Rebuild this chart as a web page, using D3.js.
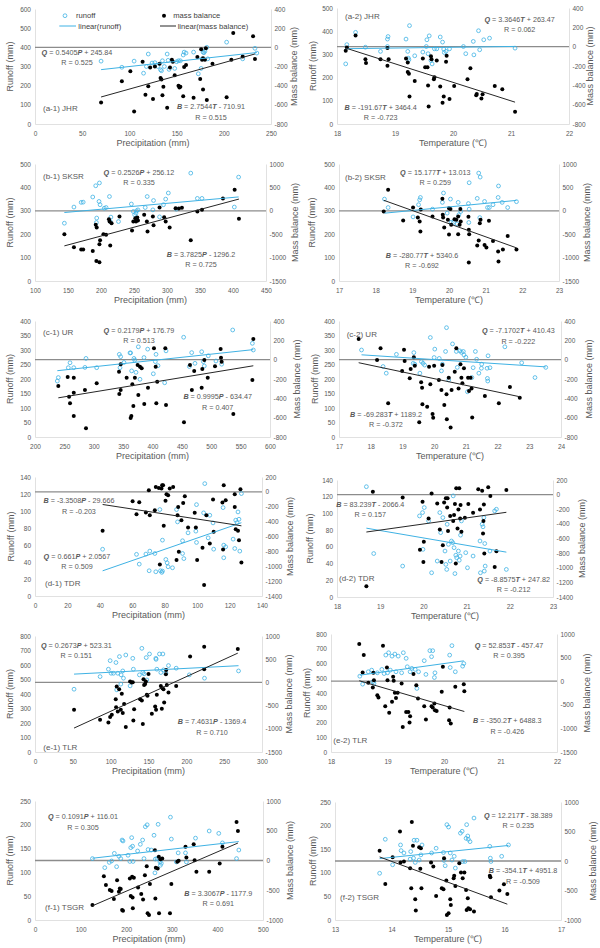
<!DOCTYPE html>
<html>
<head>
<meta charset="utf-8">
<title>Runoff and mass balance vs precipitation and temperature</title>
<style>
  body { margin: 0; background: #fff; }
  text { font-family: "Liberation Sans", Arial, sans-serif; fill: #595959; }
  .axis .tick text { font-size: 6.5px; fill: #595959; }
  .axis path { stroke: #d9d9d9; stroke-width: 0.8; }
</style>
<script src="https://d3js.org/d3.v7.min.js"></script>
</head>
<body>
<script>
// ---- data ----
const panelTitles = ["(a-1) JHR", "(a-2) JHR", "(b-1) SKSR", "(b-2) SKSR", "(c-1) UR", "(c-2) UR",
  "(d-1) TDR", "(d-2) TDR", "(e-1) TLR", "(e-2) TLR", "(f-1) TSGR", "(f-2) TSGR"];
const xTitles = ["Precipitation (mm)", "Temperature (\u2103)"];

const xDomains = [[0, 250], [18, 22], [100, 450], [17, 23], [200, 600], [17, 24],
  [0, 140], [18, 23], [0, 300], [18, 22], [0, 500], [13, 17]];
const xSteps = [50, 1, 50, 1, 50, 1, 20, 1, 50, 1, 100, 1];
const runoffDomains = [[0, 600], [0, 500], [0, 500], [0, 500], [0, 400], [0, 400],
  [0, 140], [0, 140], [0, 800], [0, 800], [0, 250], [0, 250]];
const runoffSteps = [100, 100, 100, 100, 50, 50, 20, 20, 100, 100, 50, 50];
const massDomains = [[-800, 400], [-800, 400], [-1500, 1000], [-1500, 1000], [-800, 400], [-800, 400],
  [-1400, 200], [-1400, 200], [-1500, 1000], [-1500, 1000], [-1000, 1000], [-1000, 1000]];
const massSteps = [200, 200, 500, 500, 200, 200, 200, 200, 500, 500, 500, 500];

const runoffFits = [[0.5405, 245.84], [3.3646, 263.47], [0.2526, 256.12], [15.177, 13.013],
  [0.2179, 176.79], [-7.1702, 410.43], [0.661, 2.0567], [-8.8575, 247.82],
  [0.2673, 523.31], [52.853, -457.47], [0.1091, 116.01], [12.217, -38.389]];
const massFits = [[2.7544, -710.91], [-191.67, 3464.4], [3.7825, -1296.2], [-280.77, 5340.6],
  [0.9995, -634.47], [-69.283, 1189.2], [-3.3508, -29.666], [83.239, -2066.4],
  [7.4631, -1369.4], [-350.2, 6488.3], [3.3067, -1177.9], [-354.1, 4951.8]];
const runoffR = ["0.525", "0.062", "0.335", "0.259", "0.513", "-0.222", "0.509", "-0.212", "0.151", "0.395", "0.305", "0.235"];
const massR = ["0.515", "-0.723", "0.725", "-0.692", "0.407", "-0.372", "-0.203", "0.157", "0.710", "-0.426", "0.691", "-0.509"];
const runoffVar = ["P", "T", "P", "T", "P", "T", "P", "T", "P", "T", "P", "T"];
const massVar = ["T", "T", "P", "T", "P", "T", "P", "T", "P", "T", "P", "T"]; // a-1 reads "T" in the source

const a1Runoff = [[70,328],[92,296],[105,328],[115,265],[118,300],[120,365],[124,318],[127,320],[130,300],[133,283],[134,278],[135,330],[137,300],[140,365],[141,332],[142,285],[148,290],[150,325],[152,330],[154,330],[157,360],[158,375],[160,370],[168,375],[173,262],[176,290],[177,340],[178,375],[179,372],[180,380],[182,400],[183,340],[203,427],[220,340],[233,395],[235,370]];
const a1Mass = [[70,-575],[92,-355],[101,-250],[105,-670],[114,-150],[117,-495],[120,-405],[122,-210],[125,-540],[127,-200],[132,-170],[133,-320],[134,-335],[135,-500],[136,-410],[140,-630],[143,-210],[145,-130],[146,-150],[148,-290],[152,-400],[153,-420],[154,-410],[157,-510],[158,-205],[160,-185],[168,-525],[172,-100],[175,-330],[176,-20],[177,-130],[178,-115],[178,-440],[180,-130],[181,-10],[182,-550],[188,-170],[203,-520],[208,-130],[210,150],[220,-95],[231,115],[233,-123]];
const a2Runoff = [[18.15,259],[18.17,342],[18.32,395],[18.49,331],[18.75,313],[18.87,366],[18.88,377],[18.87,334],[19.19,366],[19.22,313],[19.23,284],[19.24,277],[19.25,424],[19.34,294],[19.48,310],[19.55,363],[19.54,334],[19.57,303],[19.59,380],[19.62,274],[19.64,259],[19.68,324],[19.72,324],[19.78,375],[19.82,353],[19.84,323],[19.85,308],[19.88,313],[19.94,324],[20.18,334],[20.22,303],[20.35,356],[20.36,298],[20.44,402],[20.46,320],[20.53,363],[20.63,370],[21.07,327]];
const a2Mass = [[18.15,-43],[18.17,-8],[18.32,116],[18.49,-129],[18.5,-170],[18.75,-129],[18.87,-15],[18.87,-198],[18.89,-129],[19.19,-122],[19.22,-164],[19.22,-261],[19.24,-281],[19.25,-516],[19.34,-354],[19.48,-122],[19.52,-212],[19.56,-212],[19.57,-402],[19.58,-620],[19.62,-98],[19.63,-129],[19.67,-337],[19.68,-316],[19.72,-143],[19.78,-413],[19.82,-579],[19.84,-516],[19.88,-157],[19.89,-95],[19.94,-541],[20.02,-406],[20.25,-337],[20.3,-223],[20.4,-503],[20.41,-489],[20.49,-537],[20.51,-492],[20.72,-406],[20.85,-440],[21.07,-672]];
const b1Runoff = [[144.5,247],[159,316],[170,336],[173,337],[187.5,359],[193,250],[192,407],[193.5,269],[197.6,419],[197,340],[198.6,326],[205,311],[207.7,314],[212.8,361],[214,254],[215,273],[226.5,254],[246,329],[249,297],[251,283],[253,290],[254,300],[256,304],[267,314],[270,361],[278.6,304],[279.6,344],[288.7,274],[294.7,326],[298,350],[302,376],[314,307],[336,461],[346,353],[353,353],[402,316],[408.5,444]];
const b1Mass = [[144.5,-500],[159,-779],[170,-829],[173,-829],[187.5,-857],[192,-300],[193.5,-357],[193,-1071],[197.6,-1100],[197.6,-714],[198.6,-629],[203.7,-500],[207.7,-514],[212,-179],[214,-743],[213,-229],[216,-264],[228,-121],[247,-421],[249,-229],[252,-157],[253,-229],[255,-143],[256,-207],[265.4,-86],[269.5,-229],[270.5,-443],[278.6,-121],[279.6,-307],[288.7,71],[295.7,-136],[298,-229],[304,-357],[313,57],[318,50],[322.6,64],[336,-629],[346,-14],[353,21],[384.8,264],[402.5,450],[409,-171]];
const b2Runoff = [[18.24,350],[18.34,314],[19.02,274],[19.17,326],[19.2,347],[19.22,357],[19.55,307],[19.82,336],[19.85,376],[19.95,290],[20.04,350],[20.06,251],[20.12,250],[20.22,244],[20.25,336],[20.27,283],[20.32,297],[20.54,250],[20.53,331],[20.55,307],[20.55,420],[20.77,353],[20.81,461],[20.85,444],[20.84,271],[20.97,340],[21.05,314],[21.1,314],[21.2,326],[21.34,357],[21.35,406],[21.45,336],[21.6,314],[21.84,339]];
const b2Mass = [[18.22,-14],[18.34,450],[18.75,-207],[19.02,71],[19.15,-143],[19.2,-229],[19.22,-443],[19.23,29],[19.55,-121],[19.82,257],[19.83,-86],[19.84,-143],[19.87,-357],[19.97,-193],[20.0,57],[20.04,36],[20.06,-300],[20.0,-507],[20.15,-179],[20.2,-193],[20.25,-121],[20.25,-500],[20.29,-300],[20.31,36],[20.32,-229],[20.53,-129],[20.54,-407],[20.55,-500],[20.54,-1107],[20.81,-636],[20.84,-264],[20.86,-193],[20.77,-743],[20.97,-729],[21.02,-786],[21.09,-214],[21.2,-643],[21.34,-871],[21.35,-1086],[21.47,-829],[21.6,-536],[21.84,-829]];
const c1Runoff = [[239.7,205],[238,193],[256.7,239],[259.6,256],[266,239],[285,240],[286.8,271],[305,239],[343.5,285],[344.7,239],[345.8,277],[351.5,257],[361.7,290],[362.8,290],[364.5,228],[368.5,271],[369.6,265],[371.9,223],[375.9,311],[378.7,199],[385.5,274],[391.8,303],[401.4,218],[404.8,260],[406,285],[409.4,246],[420.7,187],[423,297],[453,344],[462.7,243],[466.7,291],[472.3,254],[483.7,294],[486.5,260],[488.2,245],[495,280],[508,262],[517.7,251],[536.5,369],[570,323],[571.6,300]];
const c1Mass = [[239.7,-272],[255.6,-179],[258,-383],[259.6,-452],[266,-583],[266,-341],[266,-186],[285,-314],[286.8,-710],[305,-245],[343,-124],[345.8,-48],[343.5,-355],[345.8,-314],[356,-186],[362.8,-603],[364,-583],[365.7,-255],[367.4,-479],[370,-186],[374.7,-55],[375.9,-366],[378.7,-72],[381.6,-90],[386,-459],[392.3,-290],[402.5,117],[405.4,-72],[406.5,-452],[408,-228],[421.8,117],[423,-469],[453.6,-648],[463.8,-55],[467,-314],[471,-117],[483.7,-290],[484.8,-97],[488.2,-3],[494,-186],[506.4,-69],[516,110],[516.6,21],[517.7,-21],[537.6,-562],[570,-210],[571.6,214]];
const c2Runoff = [[17.71,300],[18.39,243],[18.49,220],[18.81,285],[19.34,254],[19.36,291],[19.39,251],[19.55,220],[19.6,260],[19.65,254],[19.7,248],[19.88,343],[20.0,274],[20.02,303],[20.16,271],[20.23,228],[20.26,251],[20.36,295],[20.39,377],[20.46,197],[20.58,321],[20.7,295],[20.73,240],[20.81,297],[20.86,292],[20.92,295],[20.94,283],[21.0,275],[21.05,156],[21.19,205],[21.23,239],[21.3,295],[21.34,268],[21.41,220],[21.49,237],[21.5,251],[21.67,237],[21.68,202],[21.69,193],[21.76,239],[21.7,280],[22.23,311],[22.76,256],[23.18,205],[23.52,240]];
const c2Mass = [[17.62,214],[18.2,-3],[18.31,117],[18.55,-452],[18.99,-117],[19.05,103],[19.07,-14],[19.23,-193],[19.26,-97],[19.36,24],[19.39,-62],[19.53,-648],[19.59,-234],[19.62,-290],[19.63,-462],[19.78,-486],[19.84,-72],[19.88,-255],[19.95,-562],[19.97,-600],[20.0,-62],[20.15,-210],[20.23,-314],[20.26,-55],[20.32,-469],[20.39,-359],[20.4,-617],[20.46,-186],[20.52,-703],[20.55,-314],[20.65,-124],[20.7,117],[20.77,-297],[20.83,-48],[20.86,-186],[20.89,-245],[20.94,-90],[21.07,-186],[21.1,-324],[21.15,-186],[21.18,-297],[21.2,-597],[21.6,-376],[22.04,-452],[22.39,-283],[22.7,-393]];
const d1Runoff = [[41.7,55],[62.6,49],[64.3,37.5],[68.4,49.3],[70.8,52.8],[70.4,29.7],[73.9,50],[74.5,28.5],[77,101.7],[77.4,29.7],[78.2,27.8],[78.6,29.3],[78.6,65.7],[80.7,43],[81.5,39],[82.1,34.4],[84.8,33.2],[87.3,101.7],[87.9,87.2],[91,65],[91,50],[91.8,44],[94.4,74.3],[99.2,76.3],[99.6,107.5],[99.6,63],[104,97.8],[104.7,132.2],[106.8,68.4],[107.8,95],[109.8,86],[110.2,55.1],[116,104],[116.4,59.8],[116.4,45],[117.6,57.9],[122.2,66.9],[123.2,55.9],[123.8,89.2],[124.6,86.4],[125.2,98.9],[125.8,90.3],[126.3,52.8],[127.3,120.5]];
const d1Mass = [[41.7,-524],[60.2,-126],[62.6,-300],[64.3,-139],[68.4,-278],[70.2,22],[70.8,-314],[73.9,-247],[74.5,66],[76.4,53],[77,-975],[78.4,89],[79,89],[78,44],[79.4,-457],[80.5,-121],[81.1,-32],[82.1,-45],[83.1,44],[85.2,66],[87.3,-917],[87.9,-314],[88.3,-202],[88.7,-805],[90.3,-381],[91.4,-148],[92.4,-59],[94.4,-479],[98.5,-282],[99.2,-479],[100,-917],[103.3,-752],[104.3,-1252],[105.7,-314],[107.8,-694],[109.8,-104],[110.2,-537],[115.6,-144],[116,-774],[116.4,89],[117.6,-113],[123.2,-32],[123.2,-202],[123.8,-501],[125.2,-524],[125.8,-649],[126.7,35],[127.3,-949]];
const d2Runoff = [[18.68,132],[18.85,52],[19.52,37],[19.91,97],[19.98,101],[20.02,107],[19.99,57],[20.12,91],[20.19,29],[20.32,43],[20.38,101],[20.4,77],[20.45,95],[20.5,55],[20.52,39],[20.54,33],[20.55,87],[20.58,63],[20.62,43],[20.65,67],[20.68,65],[20.69,121],[20.71,59],[20.73,28],[20.75,50],[20.77,47],[20.81,55],[20.83,44],[20.85,49],[20.86,74],[20.88,91],[20.98,53],[21.02,35],[21.15,49],[21.31,67],[21.32,29],[21.36,87],[21.38,84],[21.4,95],[21.42,64],[21.41,31],[21.43,37],[21.54,55],[21.65,103],[21.69,105],[21.92,33]];
const d2Mass = [[18.68,-1254],[18.83,40],[19.52,-38],[19.98,-97],[19.92,-755],[20.0,-920],[20.01,-646],[20.12,-326],[20.19,17],[20.32,-120],[20.38,-477],[20.42,-920],[20.45,-691],[20.48,-106],[20.52,-51],[20.55,-175],[20.56,-51],[20.57,-499],[20.62,-294],[20.69,-362],[20.71,-280],[20.73,-129],[20.75,-943],[20.76,87],[20.79,-463],[20.81,-202],[20.83,87],[20.85,-326],[20.86,-143],[20.88,-509],[20.96,-317],[21.04,-129],[21.15,-248],[21.27,72],[21.31,-202],[21.36,54],[21.38,-531],[21.39,-362],[21.4,-134],[21.41,-806],[21.5,100],[21.55,-18],[21.65,-989],[21.69,-774],[21.92,63]];
const e1Runoff = [[51.6,433],[86,520],[97,571],[99.3,630],[100.6,543],[103.7,543],[107,617],[108,429],[109.4,543],[111.6,658],[113.4,468],[113.8,532],[116,559],[116.9,509],[120,669],[125.7,456],[129.2,646],[130,571],[138,532],[141.2,715],[142.5,548],[144.2,539],[147,651],[147.8,497],[151.3,676],[161,571],[159.7,646],[160,639],[164.5,676],[166.3,548],[169,676],[169.8,566],[173,543],[176.4,596],[186.6,578],[204,532],[224,509],[269,559]];
const e1Mass = [[51.6,-590],[86,-805],[97,-862],[99.3,-748],[101.5,-698],[106.7,-361],[107.2,-533],[108,-89],[109.4,-626],[111.2,-146],[113.4,-590],[114.7,-246],[116,-662],[117.8,-468],[120,-963],[125.7,18],[127.9,-4],[129.2,4],[130,-820],[131,-576],[139,-361],[141.2,-389],[142.5,-898],[143.4,68],[144.2,-54],[145.6,-32],[146.5,18],[147.8,-268],[148.7,-290],[150,183],[154.4,-676],[158.8,-519],[160,-590],[161,-268],[166.3,-75],[167.6,-569],[168.5,-125],[169.8,-146],[170.7,-433],[173,176],[173.4,269],[174.2,-54],[176.4,-218],[186.6,-75],[205,556],[223.6,771],[223.6,284],[268,721]];
const e2Runoff = [[18.51,514],[18.56,460],[18.66,544],[18.72,555],[18.74,476],[18.76,465],[18.82,537],[18.9,560],[18.94,532],[18.97,657],[19.0,537],[19.02,673],[19.05,555],[19.08,650],[19.13,664],[19.15,544],[19.19,650],[19.28,673],[19.25,537],[19.33,635],[19.35,578],[19.4,544],[19.43,567],[19.49,560],[19.52,431],[19.55,544],[19.65,619],[19.68,526],[19.75,687],[19.78,646],[19.8,687],[19.83,505],[19.84,537],[20.1,657],[20.11,573],[20.14,721],[20.2,544],[20.33,582],[20.35,600]];
const e2Mass = [[18.5,788],[18.58,554],[18.56,186],[18.66,-35],[18.74,-135],[18.75,179],[18.76,21],[18.82,-297],[18.84,-346],[18.92,752],[18.96,-530],[18.99,292],[19.0,21],[19.03,-671],[19.08,-438],[19.1,92],[19.11,7],[19.13,-246],[19.15,-354],[19.18,-246],[19.25,-49],[19.27,-969],[19.33,-650],[19.37,-650],[19.39,-877],[19.4,-742],[19.46,150],[19.51,-84],[19.54,-367],[19.65,-530],[19.68,-813],[19.78,-530],[19.8,-558],[19.83,-473],[19.84,-615],[19.87,-629],[19.96,-225],[19.98,306],[20.09,-827],[20.12,-898],[20.2,-119],[20.1,-558],[20.35,-63],[20.36,-211]];
const f1Runoff = [[126,129],[153,110],[163,121],[168,124],[174,140],[179,112],[184,134],[188,129],[191,168],[193,166],[204,136],[208,123],[210,152],[212,173],[214,155],[215,123],[225,145],[231,159],[236,168],[239,129],[242,196],[246,200],[248,148],[255,147],[261,178],[263,99],[264,128],[268,129],[270,201],[274,122],[275,115],[277,119],[297,216],[299,170],[310,122],[314,141],[330,141],[332,122],[352,172],[382,187],[403,182],[411,162],[442,129],[447,147]];
const f1Mass = [[126,-749],[151,-263],[155.5,-413],[164,-497],[168,-514],[173,-648],[180,-330],[184,-525],[186,-469],[188,-480],[191,-832],[193,-844],[208,-302],[210,-598],[213,-274],[214,-620],[214.5,-804],[216.8,-291],[226,-453],[233,-564],[237,-654],[241,-246],[245,-95],[247,-888],[250,-916],[252,-397],[263,173],[264,-637],[265,-123],[269,-134],[271.5,61],[272,-888],[275,22],[279,33],[296,-888],[299,-397],[312,-22],[315,-5],[330,229],[332,50],[348,274],[350,5],[354,-190],[382,-190],[405,-50],[411,229],[442,648],[445,497]];
const f2Runoff = [[13.79,99],[13.89,171],[14.02,117],[14.16,159],[14.17,147],[14.22,142],[14.33,129],[14.34,145],[14.39,131],[14.4,169],[14.42,122],[14.45,169],[14.49,127],[14.52,138],[14.54,159],[14.71,142],[14.79,152],[14.92,143],[14.93,126],[14.95,115],[14.98,202],[15.01,197],[15.04,142],[15.07,127],[15.11,135],[15.13,110],[15.22,184],[15.25,188],[15.26,124],[15.3,124],[15.32,173],[15.33,202],[15.35,178],[15.36,171],[15.39,166],[15.46,216],[15.74,156],[15.75,131],[15.76,124],[15.95,135],[16.07,159]];
const f2Mass = [[13.79,173],[13.89,-388],[14.02,65],[14.15,501],[14.16,-25],[14.22,-8],[14.33,-122],[14.35,-462],[14.36,660],[14.38,258],[14.42,-649],[14.43,-841],[14.49,235],[14.51,-133],[14.52,218],[14.53,-462],[14.7,-25],[14.74,-94],[14.79,-592],[14.89,-462],[14.92,-479],[14.93,48],[14.97,-331],[14.98,-915],[15.01,-887],[15.04,-649],[15.05,-745],[15.1,-292],[15.11,-252],[15.13,-422],[15.2,-37],[15.23,-195],[15.26,-292],[15.29,-195],[15.32,-490],[15.33,-830],[15.35,-632],[15.36,-802],[15.39,-819],[15.46,-858],[15.74,-252],[15.75,-275],[15.76,-615],[15.91,-501],[15.99,-394],[16.05,-558]];

const runoffSeries = [a1Runoff, a2Runoff, b1Runoff, b2Runoff, c1Runoff, c2Runoff, d1Runoff, d2Runoff, e1Runoff, e2Runoff, f1Runoff, f2Runoff];
const massSeries = [a1Mass, a2Mass, b1Mass, b2Mass, c1Mass, c2Mass, d1Mass, d2Mass, e1Mass, e2Mass, f1Mass, f2Mass];

// ---- layout: plot box [x0, x1, y0, y1], axis-title x, label anchors ----
const layout = [
  { box: [35, 271, 9, 124], yl: 10, yr: 294, title: [43, 108.5], q: [77, 52.3], b: [211, 106.7] },
  { box: [337, 569, 8, 124], yl: 313, yr: 590, title: [345, 16], q: [519.7, 19], b: [380.7, 107.3] },
  { box: [35, 266, 164, 281], yl: 10, yr: 295, title: [43, 175.7], q: [139, 172.3], b: [201, 254.3] },
  { box: [339, 559, 164, 281], yl: 311.7, yr: 586.7, title: [345, 177.3], q: [435.3, 172.3], b: [422, 255] },
  { box: [35, 270, 321, 437], yl: 9.5, yr: 297, title: [43, 332.3], q: [139, 330], b: [217.7, 396.7] },
  { box: [339, 561, 321, 437], yl: 315, yr: 589, title: [346.7, 334], q: [518.3, 330.7], b: [386, 414.3] },
  { box: [35, 262, 477, 596], yl: 11, yr: 289.5, title: [45, 582.7], q: [77, 556], b: [79, 500.7] },
  { box: [337, 553, 480, 597], yl: 310, yr: 581.7, title: [339, 578.3], q: [513.7, 579.3], b: [370.3, 504.3] },
  { box: [35, 262, 636, 752], yl: 9.5, yr: 289, title: [43.3, 746.7], q: [76.3, 645], b: [212, 721.7] },
  { box: [331, 557, 634, 752], yl: 307.3, yr: 586.7, title: [333.3, 740], q: [509, 645], b: [507.3, 720.7] },
  { box: [35, 263, 801, 920], yl: 10, yr: 290, title: [45, 906.7], q: [83, 816.7], b: [218.3, 893.3] },
  { box: [335, 561, 802, 920], yl: 313.3, yr: 592.7, title: [340, 897.3], q: [518.3, 815], b: [523, 870.7] }
];

const runoffColor = "#3fb2e4";
const fmt = (d) => String(d);
const tickRange = (dom, step) => d3.range(dom[0], dom[1] + step / 2, step);

const svg = d3.select("body").append("svg")
  .attr("width", 600)
  .attr("height", 948);

svg.append("rect").attr("width", 600).attr("height", 948).attr("fill", "#fff");

function equation(g, pos, sym, fit, v, r) {
  const t = g.append("text")
    .attr("x", pos[0])
    .attr("y", pos[1])
    .attr("dy", "0.35em")
    .attr("text-anchor", "middle")
    .attr("font-size", 7.2);
  t.append("tspan").attr("font-weight", "bold").attr("font-style", "italic").text(sym);
  t.append("tspan").text(" = " + fit[0]);
  t.append("tspan").attr("font-weight", "bold").attr("font-style", "italic").text(v);
  t.append("tspan").text((fit[1] < 0 ? " - " : " + ") + Math.abs(fit[1]));
  g.append("text")
    .attr("x", pos[0])
    .attr("y", pos[1] + 10.3)
    .attr("dy", "0.35em")
    .attr("text-anchor", "middle")
    .attr("font-size", 7.2)
    .text("R = " + r);
}

layout.forEach(function (p, i) {
  const [x0, x1, y0, y1] = p.box;
  const x = d3.scaleLinear().domain(xDomains[i]).range([x0, x1]);
  const yq = d3.scaleLinear().domain(runoffDomains[i]).range([y1, y0]);
  const yb = d3.scaleLinear().domain(massDomains[i]).range([y1, y0]);
  const g = svg.append("g");

  g.append("g").attr("class", "axis")
    .attr("transform", "translate(0," + y1 + ")")
    .call(d3.axisBottom(x).tickValues(tickRange(xDomains[i], xSteps[i]))
      .tickSize(0).tickPadding(7.5).tickFormat(fmt));
  g.append("g").attr("class", "axis")
    .attr("transform", "translate(" + x0 + ",0)")
    .call(d3.axisLeft(yq).tickValues(tickRange(runoffDomains[i], runoffSteps[i]))
      .tickSize(0).tickPadding(4).tickFormat(fmt));
  g.append("g").attr("class", "axis")
    .attr("transform", "translate(" + x1 + ",0)")
    .call(d3.axisRight(yb).tickValues(tickRange(massDomains[i], massSteps[i]))
      .tickSize(0).tickPadding(3.5).tickFormat(fmt));
  g.selectAll(".axis text").attr("font-family", null);

  // axis titles
  g.append("text")
    .attr("transform", "translate(" + p.yl + "," + (y0 + y1) / 2 + ") rotate(-90)")
    .attr("text-anchor", "middle").attr("dy", "0.35em").attr("font-size", 9)
    .text("Runoff (mm)");
  g.append("text")
    .attr("transform", "translate(" + p.yr + "," + (y0 + y1) / 2 + ") rotate(-90)")
    .attr("text-anchor", "middle").attr("dy", "0.35em").attr("font-size", 9)
    .text("Mass balance (mm)");
  g.append("text")
    .attr("x", (x0 + x1) / 2).attr("y", y1 + 19)
    .attr("text-anchor", "middle").attr("dy", "0.35em").attr("font-size", 9)
    .text(xTitles[i % 2]);

  // zero mass balance
  g.append("line")
    .attr("x1", x0).attr("x2", x1)
    .attr("y1", yb(0)).attr("y2", yb(0))
    .attr("stroke", "#8c8c8c").attr("stroke-width", 1.3);

  g.selectAll(".q").data(runoffSeries[i]).join("circle")
    .attr("class", "q")
    .attr("cx", (d) => x(d[0])).attr("cy", (d) => yq(d[1]))
    .attr("r", 1.9).attr("fill", "none")
    .attr("stroke", runoffColor).attr("stroke-width", 0.8);

  g.selectAll(".b").data(massSeries[i]).join("circle")
    .attr("class", "b")
    .attr("cx", (d) => x(d[0])).attr("cy", (d) => yb(d[1]))
    .attr("r", 2).attr("fill", "#000");

  // linear fits over each series' range
  function fitLine(data, fit, ys, color) {
    const [lo, hi] = d3.extent(data, (d) => d[0]);
    g.append("line")
      .attr("x1", x(lo)).attr("x2", x(hi))
      .attr("y1", ys(fit[0] * lo + fit[1])).attr("y2", ys(fit[0] * hi + fit[1]))
      .attr("stroke", color).attr("stroke-width", 1);
  }
  fitLine(runoffSeries[i], runoffFits[i], yq, runoffColor);
  fitLine(massSeries[i], massFits[i], yb, "#262626");

  g.append("text")
    .attr("x", p.title[0]).attr("y", p.title[1])
    .attr("dy", "0.35em").attr("font-size", 8)
    .text(panelTitles[i]);

  equation(g, p.q, "Q", runoffFits[i], runoffVar[i], runoffR[i]);
  equation(g, p.b, "B", massFits[i], massVar[i], massR[i]);

  if (i === 0) {
    const lg = g.append("g").attr("font-size", 7.6);
    lg.append("circle").attr("cx", 65).attr("cy", 15.7).attr("r", 1.9)
      .attr("fill", "none").attr("stroke", runoffColor).attr("stroke-width", 0.8);
    lg.append("text").attr("x", 76).attr("y", 15.7).attr("dy", "0.35em")
      .style("fill", "#404040").text("runoff");
    lg.append("circle").attr("cx", 164).attr("cy", 15.7).attr("r", 2).attr("fill", "#000");
    lg.append("text").attr("x", 173.3).attr("y", 15.7).attr("dy", "0.35em")
      .style("fill", "#404040").text("mass balance");
    lg.append("line").attr("x1", 59.3).attr("x2", 76).attr("y1", 26).attr("y2", 26)
      .attr("stroke", runoffColor).attr("stroke-width", 1);
    lg.append("text").attr("x", 78.3).attr("y", 26).attr("dy", "0.35em")
      .style("fill", "#404040").text("linear(runoff)");
    lg.append("line").attr("x1", 160).attr("x2", 176).attr("y1", 26).attr("y2", 26)
      .attr("stroke", "#262626").attr("stroke-width", 1);
    lg.append("text").attr("x", 177.7).attr("y", 26).attr("dy", "0.35em")
      .style("fill", "#404040").text("linear(mass balance)");
  }
});
</script>
</body>
</html>
